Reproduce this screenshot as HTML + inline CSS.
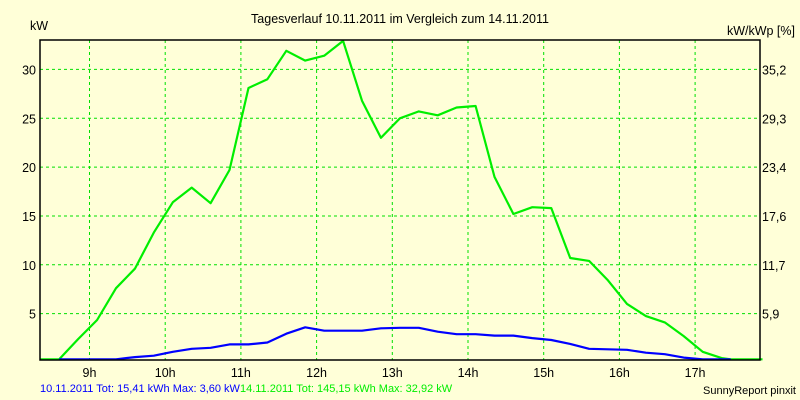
<!DOCTYPE html>
<html><head><meta charset="utf-8"><style>
body{margin:0;background:#ffffd8;}
svg{display:block;font-family:"Liberation Sans",sans-serif;}
</style></head><body>
<svg id="chart" width="800" height="400" viewBox="0 0 800 400">
<rect x="0" y="0" width="800" height="400" fill="#ffffd8"/>
<text x="400" y="23" font-size="12.5" text-anchor="middle">Tagesverlauf 10.11.2011 im Vergleich zum 14.11.2011</text>
<text x="30" y="30" font-size="12.5">kW</text>
<text x="795" y="35" font-size="12.5" text-anchor="end">kW/kWp [%]</text>
<g id="grid"></g>
<g id="axes-labels"></g>
<g id="series"></g>
<rect x="40" y="40" width="720" height="320" fill="none" stroke="#000" stroke-width="1.5"/>
<text x="40" y="392" font-size="11" fill="#0000ff">10.11.2011 Tot: 15,41 kWh Max: 3,60 kW<tspan fill="#00ee00">14.11.2011 Tot: 145,15 kWh Max: 32,92 kW</tspan></text>
<text x="796" y="394" font-size="11" text-anchor="end">SunnyReport pinxit</text>
</svg>
<script>
const xTicks=[9,10,11,12,13,14,15,16,17];
const yTicks=[5,10,15,20,25,30];
const yRightLabels=["5,9","11,7","17,6","23,4","29,3","35,2"];
const greenTimes=[8.35,8.6,8.85,9.1,9.35,9.6,9.85,10.1,10.35,10.6,10.85,11.1,11.35,11.6,11.85,12.1,12.35,12.6,12.85,13.1,13.35,13.6,13.85,14.1,14.35,14.6,14.85,15.1,15.35,15.6,15.85,16.1,16.35,16.6,16.85,17.1,17.35,17.47,17.89];
const greenValues=[0,0,2.4,4.35,7.6,9.6,13.3,16.4,17.9,16.3,19.7,28.1,29.0,31.9,30.9,31.4,32.92,26.8,23.0,25.0,25.7,25.3,26.1,26.25,19.0,15.2,15.9,15.8,10.7,10.4,8.4,6.0,4.75,4.1,2.7,1.1,0.45,0,0];
const blueTimes=[8.6,8.85,9.1,9.35,9.6,9.85,10.1,10.35,10.6,10.85,11.1,11.35,11.6,11.85,12.1,12.35,12.6,12.85,13.1,13.35,13.6,13.85,14.1,14.35,14.6,14.85,15.1,15.35,15.6,15.85,16.1,16.35,16.6,16.85,17.1,17.35,17.47];
const blueValues=[0,0,0,0,0.55,0.7,1.1,1.4,1.5,1.85,1.85,2.05,2.95,3.6,3.25,3.25,3.25,3.5,3.55,3.55,3.15,2.9,2.9,2.75,2.75,2.5,2.3,1.9,1.4,1.35,1.3,1.0,0.85,0.5,0.2,0,0];
const NS="http://www.w3.org/2000/svg";
function xs(h){return 89.5+(h-9)*75.7;}
function ys(v){return 362.5-v*9.77;}
function mk(tag,attrs,parent){const e=document.createElementNS(NS,tag);for(const k in attrs)e.setAttribute(k,attrs[k]);parent.appendChild(e);return e;}
const grid=document.getElementById('grid');
const lab=document.getElementById('axes-labels');
const ser=document.getElementById('series');
xTicks.forEach(h=>{
  const l=mk('line',{x1:xs(h),x2:xs(h),y1:40,y2:360,stroke:'#00e000','stroke-width':1,'stroke-dasharray':'3,3'},grid);
  
  
  const t=mk('text',{x:xs(h),y:377,'font-size':12.5,'text-anchor':'middle'},lab);
  
  
  t.textContent=h+'h';
});
yTicks.forEach((v,i)=>{
  const l=mk('line',{x1:40,x2:760,y1:ys(v),y2:ys(v),stroke:'#00e000','stroke-width':1,'stroke-dasharray':'3,3'},grid);
  
  
  const t=mk('text',{x:36,y:ys(v)+5,'font-size':12.5,'text-anchor':'end'},lab);
  
  
  t.textContent=v;
  const r=mk('text',{x:762,y:ys(v)+5,'font-size':12.5},lab);
  
  
  r.textContent=yRightLabels[i];
});
function pts(ts,vs){return ts.map((t,i)=>xs(t).toFixed(1)+','+Math.min(ys(vs[i]),359.3).toFixed(1)).join(' ');}
const b=mk('polyline',{points:pts(blueTimes,blueValues),fill:'none',stroke:'#0000ff','stroke-width':2.2,'stroke-linejoin':'round'},ser);


const g=mk('polyline',{points:pts(greenTimes,greenValues),fill:'none',stroke:'#00ee00','stroke-width':2.2,'stroke-linejoin':'round'},ser);


ser.appendChild(b);
</script>
</body></html>
